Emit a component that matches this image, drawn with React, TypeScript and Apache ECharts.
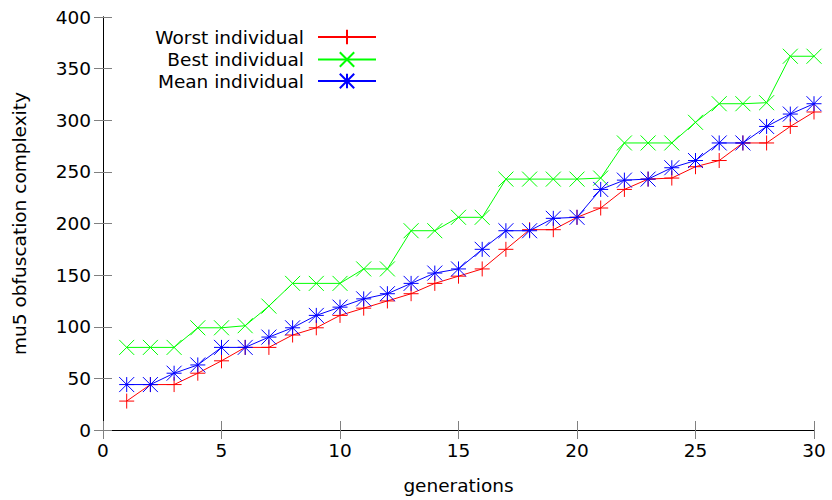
import React, { useEffect, useRef } from "react";
import * as echarts from "echarts";

const generations = [1,2,3,4,5,6,7,8,9,10,11,12,13,14,15,16,17,18,19,20,21,22,23,24,25,26,27,28,29,30];
const worstValues = [28,44,44,55,67,80,80,92,99,111,118,125,132,142,149,156,175,194,194,206,215,233,243,244,255,261,278,278,294,308];
const bestValues = [80,80,80,99,99,101,120,142,142,142,156,156,193,193,206,206,243,243,243,243,244,278,278,278,298,316,316,317,362,362];
const meanValues = [44,44,55,63,80,80,90,99,111,119,127,132,142,152,156,175,193,193,205,206,233,242,243,254,261,278,278,294,306,316];
const seriesNames = ["Worst individual", "Best individual", "Mean individual"];
const xTitle = "generations";
const yTitle = "mu5 obfuscation complexity";

const FONT = "DejaVu Sans";
const FS = 18.5;

const PLUS = "path://M0,-10L0,10M-10,0L10,0";
const CROSS = "path://M-10,-10L10,10M-10,10L10,-10";
const STAR = "path://M0,-10L0,10M-10,0L10,0M-10,-10L10,10M-10,10L10,-10";

export default function App() {
  const ref = useRef<HTMLDivElement>(null);
  useEffect(() => {
    document.body.style.margin = "0";
    const chart = echarts.init(ref.current!, null, { renderer: "svg" });
    const colors = ["#ff0000", "#00ff00", "#0000ff"];
    const symbols = [PLUS, CROSS, STAR];
    const values = [worstValues, bestValues, meanValues];
    const series = seriesNames.map((name, i) => ({
      name,
      type: "line",
      data: generations.map((g, j) => [g, values[i][j]]),
      symbol: symbols[i],
      symbolSize: 15,
      showSymbol: true,
      color: colors[i],
      lineStyle: { color: colors[i], width: 1 },
      itemStyle: { color: colors[i], borderColor: colors[i], borderWidth: 1 },
      emphasis: { disabled: true },
      z: 2 + (i === 2 ? 1 : 0),
    }));
    const legendTops = [27.5, 50, 71.5];
    const legend = seriesNames.map((name, i) => ({
      data: [name],
      right: 455,
      top: legendTops[i],
      align: "right",
      padding: 0,
      itemWidth: 58,
      itemHeight: 18,
      selectedMode: false,
      textStyle: { fontFamily: FONT, fontSize: FS, color: "#000", padding: [0, 9, 0, 0] },
    }));
    const axisCommonX = {
      type: "value",
      min: 0,
      max: 30,
      interval: 5,
      axisLine: { show: true, lineStyle: { color: "#000", width: 1 } },
      axisTick: { show: true, inside: true, length: 9, lineStyle: { color: "#808080" } },
      splitLine: { show: false },
    };
    const axisCommonY = {
      type: "value",
      min: 0,
      max: 400,
      interval: 50,
      axisLine: { show: true, lineStyle: { color: "#000", width: 1 } },
      axisTick: { show: true, inside: true, length: 9, lineStyle: { color: "#808080" } },
      splitLine: { show: false },
    };
    chart.setOption({
      animation: false,
      backgroundColor: "#fff",
      grid: { left: 103, right: 18, top: 17, bottom: 69, containLabel: false },
      legend,
      xAxis: [
        {
          ...axisCommonX,
          position: "bottom",
          name: xTitle,
          nameLocation: "middle",
          nameGap: 46,
          nameTextStyle: { fontFamily: FONT, fontSize: FS, color: "#000" },
          axisLabel: { fontFamily: FONT, fontSize: FS, color: "#000", margin: 11 },
        },
        { ...axisCommonX, position: "top", axisLabel: { show: false } },
      ],
      yAxis: [
        {
          ...axisCommonY,
          position: "left",
          name: yTitle,
          nameLocation: "middle",
          nameGap: 74,
          nameTextStyle: { fontFamily: FONT, fontSize: FS, color: "#000" },
          axisLabel: { fontFamily: FONT, fontSize: FS, color: "#000", margin: 12 },
        },
        { ...axisCommonY, position: "right", axisLabel: { show: false } },
      ],
      series,
    });
    return () => chart.dispose();
  }, []);
  return <div ref={ref} style={{ width: 832, height: 500 }} />;
}
